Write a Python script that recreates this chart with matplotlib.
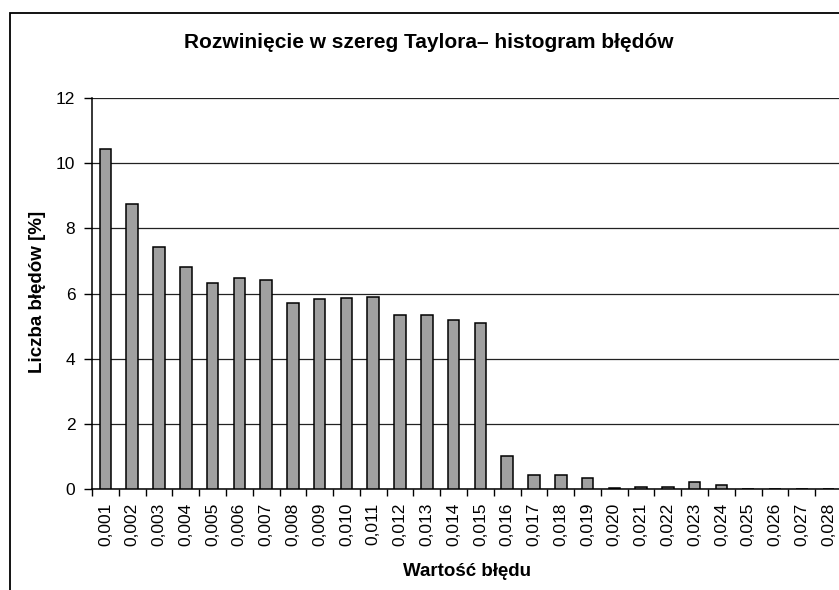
import numpy as np
import matplotlib.pyplot as plt
from matplotlib.patches import Rectangle

plt.rcParams['font.family'] = ['Liberation Sans', 'DejaVu Sans']

# error value bins and share of errors in each bin [%]
bins = ['0,001', '0,002', '0,003', '0,004', '0,005', '0,006', '0,007',
        '0,008', '0,009', '0,010', '0,011', '0,012', '0,013', '0,014',
        '0,015', '0,016', '0,017', '0,018', '0,019', '0,020', '0,021',
        '0,022', '0,023', '0,024', '0,025', '0,026', '0,027', '0,028']
percent = [10.42, 8.75, 7.44, 6.82, 6.33, 6.47, 6.41,
           5.70, 5.84, 5.87, 5.89, 5.33, 5.35, 5.18,
           5.10, 1.02, 0.42, 0.42, 0.33, 0.02, 0.07,
           0.07, 0.21, 0.13, 0.0, 0.0, 0.0, 0.0]
yticks = [0, 2, 4, 6, 8, 10, 12]

W, H = 839, 590
fig = plt.figure(figsize=(W / 100, H / 100), dpi=100)
ax = fig.add_axes([92 / W, 1 - 489 / H, 750 / W, 391 / H])

x = np.arange(len(bins))
ax.bar(x, percent, width=0.43, color='#a0a0a0', edgecolor='black',
       linewidth=1.1, zorder=3)

ax.set_xlim(-0.5, len(bins) - 0.5)
ax.set_ylim(0, 12)
ax.set_yticks(yticks)
ax.set_yticklabels([str(v) for v in yticks], fontsize=12.5)
ax.yaxis.grid(True, color='#222222', linewidth=0.9)
ax.set_axisbelow(True)

ax.set_xticks(x)
ax.set_xticklabels(bins, rotation=90, fontsize=12.5)
ax.set_xticks(np.arange(len(bins) + 1) - 0.5, minor=True)
ax.tick_params(axis='x', which='major', length=0, pad=10)
ax.tick_params(axis='x', which='minor', length=5, width=1, direction='out')
ax.tick_params(axis='y', length=6, width=1, direction='out', pad=6)

for s in ['top', 'right']:
    ax.spines[s].set_visible(False)
for s in ['left', 'bottom']:
    ax.spines[s].set_linewidth(1.1)

fig.text(429 / W, 1 - 42 / H, 'Rozwinięcie w szereg Taylora– histogram błędów',
         ha='center', va='center', fontsize=15, fontweight='bold')
fig.text(38 / W, 1 - 292 / H, 'Liczba błędów [%]', rotation=90,
         ha='center', va='center', fontsize=13.5, fontweight='bold')
fig.text(467 / W, 1 - 571 / H, 'Wartość błędu',
         ha='center', va='center', fontsize=13.5, fontweight='bold')

# chart frame
fig.patches.append(Rectangle((10 / W, -0.1), 1.2, 1 - 13 / H + 0.1,
                             transform=fig.transFigure, fill=False,
                             edgecolor='black', linewidth=1.3))

fig.savefig('out.png', dpi=100)
